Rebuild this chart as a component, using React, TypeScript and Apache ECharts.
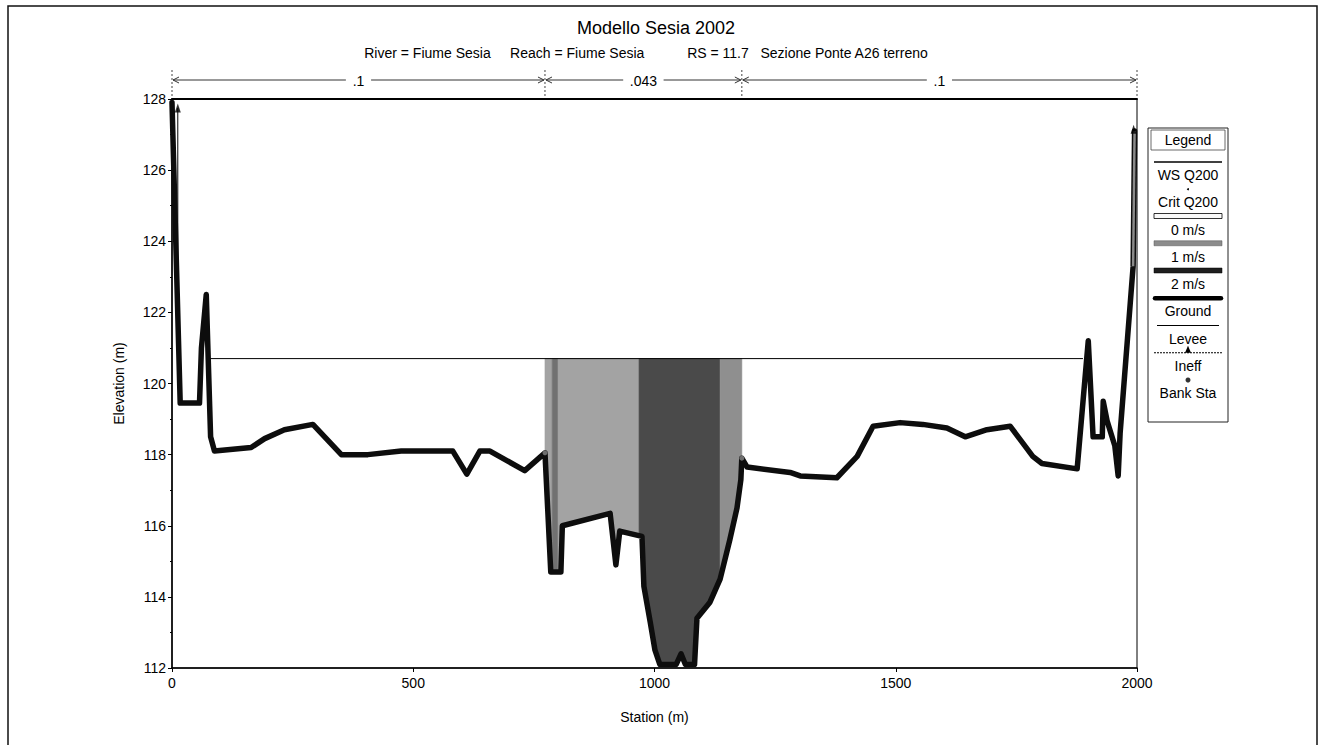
import React, { useEffect, useRef } from "react";
import * as echarts from "echarts";

const FONT = "'Liberation Sans', Arial, sans-serif";

// Ground profile (station m, elevation m)
const groundStations = [
  0, 17, 57, 61, 71, 80, 88, 164, 192, 233, 292, 351, 406, 475, 582, 611, 638, 659, 731, 773,
  785, 806, 809, 908, 920, 928, 974, 978, 991, 1001, 1011, 1045, 1055, 1064, 1083, 1088, 1115, 1136,
  1156, 1171, 1179, 1181, 1192, 1281, 1302, 1378, 1420, 1453, 1509, 1556, 1606, 1644, 1689, 1737,
  1784, 1803, 1876, 1899, 1909, 1928, 1930, 1938, 1954, 1961, 1965, 1992, 1995,
];
const groundElevations = [
  127.9, 119.45, 119.45, 121.0, 122.5, 118.5, 118.1, 118.2, 118.45, 118.7, 118.85, 118.0, 118.0, 118.1, 118.1, 117.45, 118.1, 118.1, 117.55, 118.05,
  114.7, 114.7, 116.0, 116.35, 114.9, 115.85, 115.7, 114.3, 113.3, 112.5, 112.1, 112.1, 112.4, 112.1, 112.1, 113.4, 113.85, 114.5,
  115.6, 116.5, 117.3, 117.9, 117.65, 117.5, 117.4, 117.35, 117.95, 118.8, 118.9, 118.85, 118.75, 118.5, 118.7, 118.8,
  117.95, 117.75, 117.6, 121.2, 118.5, 118.5, 119.5, 118.95, 118.25, 117.4, 118.6, 123.3, 127.1,
];

// Water surface Q200
const wsElevation = 120.7;
const wsStations = [75, 1888];

// Velocity distribution slices (m/s)
const velSliceBounds = [773, 788, 800, 968, 1136, 1181];
const velSliceValues = [0.8, 1.3, 0.8, 1.7, 1.0];

// Manning's n
const nBounds = [0, 773, 1181, 2000];
const nLabels = [".1", ".043", ".1"];

// Markers
const bankStations = [773, 1181];
const bankElevations = [118.05, 117.9];
const ineffLeft = [[12, 127.75], [12, 121.8]];
const ineffRight = [[1992, 123.3], [1995, 127.1]];
const leveePoints = [[12, 127.75], [1993, 127.15]];

const xMin = 0, xMax = 2000, xStep = 500;
const yMin = 112, yMax = 128, yStep = 2;

const legendLabels = ["WS Q200", "Crit Q200", "0 m/s", "1 m/s", "2 m/s", "Ground", "Levee", "Ineff", "Bank Sta"];

function groundAt(s: number): number {
  for (let k = 0; k < groundStations.length - 1; k++) {
    const a = groundStations[k], b = groundStations[k + 1];
    if (s >= a && s <= b) {
      const t = b === a ? 0 : (s - a) / (b - a);
      return groundElevations[k] + t * (groundElevations[k + 1] - groundElevations[k]);
    }
  }
  return groundElevations[groundElevations.length - 1];
}

function velColor(v: number): string {
  const g = Math.max(20, Math.min(250, Math.round(242 - 99 * v)));
  return `rgb(${g},${g},${g})`;
}

function buildLegend(): any[] {
  const x0 = 1148, y0 = 128, w = 80, h = 294;
  const cx = x0 + w / 2;
  const els: any[] = [];
  els.push({ type: "rect", shape: { x: x0, y: y0, width: w, height: h }, style: { fill: "#fff", stroke: "#222", lineWidth: 1 } });
  els.push({ type: "rect", shape: { x: x0 + 3, y: y0 + 2, width: w - 6, height: 20 }, style: { fill: "#fff", stroke: "#444", lineWidth: 0.8 } });
  els.push({ type: "text", style: { x: cx, y: y0 + 12, text: "Legend", align: "center", verticalAlign: "middle", fontSize: 14, fontFamily: FONT, fill: "#000" } });
  const step = 27.25;
  legendLabels.forEach((lab, i) => {
    const labY = 175 + step * i;
    const symY = labY - 13;
    const sx1 = x0 + 6, sx2 = x0 + w - 6;
    if (i === 0) els.push({ type: "line", shape: { x1: sx1, y1: symY, x2: sx2, y2: symY }, style: { stroke: "#000", lineWidth: 1.5 } });
    if (i === 1) els.push({ type: "circle", shape: { cx, cy: symY, r: 1 }, style: { fill: "#000" } });
    if (i === 2) els.push({ type: "rect", shape: { x: sx1, y: symY - 3, width: sx2 - sx1, height: 5 }, style: { fill: "#fafafa", stroke: "#000", lineWidth: 0.8 } });
    if (i === 3) els.push({ type: "rect", shape: { x: sx1, y: symY - 3, width: sx2 - sx1, height: 5 }, style: { fill: "#8c8c8c", stroke: "#555", lineWidth: 0.5 } });
    if (i === 4) els.push({ type: "rect", shape: { x: sx1, y: symY - 3, width: sx2 - sx1, height: 5 }, style: { fill: "#1e1e1e", stroke: "#000", lineWidth: 0.5 } });
    if (i === 5) els.push({ type: "line", shape: { x1: sx1 + 1, y1: symY, x2: sx2 - 1, y2: symY }, style: { stroke: "#000", lineWidth: 4.5, lineCap: "round" } });
    if (i === 6) els.push({ type: "line", shape: { x1: sx1 + 3, y1: symY, x2: sx2 - 3, y2: symY }, style: { stroke: "#000", lineWidth: 1 } });
    if (i === 7) {
      els.push({ type: "line", shape: { x1: sx1, y1: symY, x2: sx2, y2: symY }, style: { stroke: "#000", lineWidth: 1, lineDash: [2, 1] } });
      els.push({ type: "polygon", shape: { points: [[cx - 3, symY], [cx + 3, symY], [cx, symY - 7]] }, style: { fill: "#000" } });
    }
    if (i === 8) els.push({ type: "circle", shape: { cx, cy: symY, r: 2.5 }, style: { fill: "#333" } });
    els.push({ type: "text", style: { x: cx, y: labY, text: lab, align: "center", verticalAlign: "middle", fontSize: 14, fontFamily: FONT, fill: "#000" } });
  });
  return els;
}

const SP = "\u00a0";

export default function App() {
  const ref = useRef<HTMLDivElement>(null);
  useEffect(() => {
    if (!ref.current) return;
    const chart = echarts.init(ref.current, undefined, { renderer: "svg" });
    const groundData = groundStations.map((s, i) => [s, groundElevations[i]]);
    const velData = velSliceValues.map((v, i) => [velSliceBounds[i], velSliceBounds[i + 1], wsElevation, v]);
    const nData = nLabels.map((l, i) => [nBounds[i], nBounds[i + 1], yMax]);
    const subtitle = "River = Fiume Sesia" + SP.repeat(5) + "Reach = Fiume Sesia" + SP.repeat(11) + "RS = 11.7" + SP.repeat(3) + "Sezione Ponte A26 terreno";

    const option: any = {
      animation: false,
      backgroundColor: "#fff",
      textStyle: { fontFamily: FONT },
      grid: { left: 172, right: 187, top: 99, bottom: 77, show: true, borderColor: "#000", borderWidth: 1, backgroundColor: "transparent" },
      xAxis: [
        {
          type: "value", min: xMin, max: xMax, interval: xStep,
          name: "Station (m)", nameLocation: "middle", nameGap: 42,
          nameTextStyle: { fontSize: 14, color: "#000", fontFamily: FONT },
          axisLine: { show: true, onZero: false, lineStyle: { color: "#000", width: 1.5 } },
          axisTick: { show: true, length: 4, lineStyle: { color: "#000" } },
          axisLabel: { fontSize: 14, color: "#000", margin: 8, fontFamily: FONT, formatter: (v: number) => String(v) },
          splitLine: { show: false },
        },
        {
          type: "value", min: xMin, max: xMax, position: "top",
          axisLine: { show: true, onZero: false, lineStyle: { color: "#000", width: 2 } },
          axisTick: { show: false }, axisLabel: { show: false }, splitLine: { show: false },
        },
      ],
      yAxis: {
        type: "value", min: yMin, max: yMax, interval: yStep,
        name: "Elevation (m)", nameLocation: "middle", nameGap: 46,
        nameTextStyle: { fontSize: 14, color: "#000", fontFamily: FONT },
        axisLine: { show: true, onZero: false, lineStyle: { color: "#000", width: 1.5 } },
        axisTick: { show: true, length: 4, lineStyle: { color: "#000" } },
        minorTick: { show: true, splitNumber: 2, length: 2, lineStyle: { color: "#000" } },
        axisLabel: { fontSize: 14, color: "#000", margin: 6, fontFamily: FONT },
        splitLine: { show: false },
      },
      series: [
        {
          type: "custom", name: "velocity", z: 1,
          data: velData, encode: { x: [0, 1], y: 2 },
          renderItem: (params: any, api: any) => {
            const i = params.dataIndex;
            const a = velSliceBounds[i], b = velSliceBounds[i + 1];
            const pts: number[][] = [[a, wsElevation], [b, wsElevation], [b, groundAt(b)]];
            for (let k = groundStations.length - 1; k >= 0; k--) {
              const s = groundStations[k];
              if (s > a && s < b) pts.push([s, groundElevations[k]]);
            }
            pts.push([a, groundAt(a)]);
            const c = velColor(velSliceValues[i]);
            return { type: "polygon", shape: { points: pts.map((p) => api.coord(p)) }, style: { fill: c, stroke: c, lineWidth: 0.6 } };
          },
        },
        {
          type: "line", name: "WS Q200", z: 2, symbol: "none",
          data: wsStations.map((s) => [s, wsElevation]),
          lineStyle: { color: "#000", width: 1 },
        },
        {
          type: "line", name: "Ineff L", z: 3, symbol: "none",
          data: ineffLeft, lineStyle: { color: "#000", width: 1 },
        },
        {
          type: "line", name: "Ground", z: 4, symbol: "none",
          data: groundData,
          lineStyle: { color: "#0d0d0d", width: 5.5, join: "round", cap: "round" },
        },
        {
          type: "line", name: "Ineff R", z: 5, symbol: "none",
          data: ineffRight, lineStyle: { color: "#8a8a8a", width: 2.5 },
        },
        {
          type: "scatter", name: "Levee", z: 6, symbol: "triangle", symbolSize: [6, 9],
          data: leveePoints, itemStyle: { color: "#000" },
        },
        {
          type: "scatter", name: "Bank Sta", z: 6, symbol: "circle", symbolSize: 5,
          data: bankStations.map((s, i) => [s, bankElevations[i]]), itemStyle: { color: "#888" },
        },
        {
          type: "custom", name: "n", z: 7, clip: false,
          data: nData, encode: { x: [0, 1], y: 2 },
          renderItem: (params: any, api: any) => {
            const i = params.dataIndex;
            const p1 = api.coord([nBounds[i], yMax]);
            const p2 = api.coord([nBounds[i + 1], yMax]);
            const y = p1[1] - 19;
            const x1 = p1[0], x2 = p2[0], mid = (x1 + x2) / 2;
            const half = nLabels[i].length * 3.8 + 5;
            const st = { stroke: "#333", lineWidth: 1, fill: "none" };
            const children: any[] = [
              { type: "line", shape: { x1: x1 + 1, y1: y, x2: mid - half, y2: y }, style: st },
              { type: "line", shape: { x1: mid + half, y1: y, x2: x2 - 1, y2: y }, style: st },
              { type: "polyline", shape: { points: [[x1 + 7, y - 3], [x1 + 1, y], [x1 + 7, y + 3]] }, style: st },
              { type: "polyline", shape: { points: [[x2 - 7, y - 3], [x2 - 1, y], [x2 - 7, y + 3]] }, style: st },
              { type: "text", style: { x: mid, y: y + 1, text: nLabels[i], align: "center", verticalAlign: "middle", fontSize: 14, fontFamily: FONT, fill: "#000" } },
              { type: "line", shape: { x1: x1, y1: y - 10, x2: x1, y2: p1[1] - 2 }, style: { stroke: "#444", lineWidth: 1, lineDash: [2, 2] } },
            ];
            if (i === nLabels.length - 1) {
              children.push({ type: "line", shape: { x1: x2, y1: y - 10, x2: x2, y2: p2[1] - 2 }, style: { stroke: "#444", lineWidth: 1, lineDash: [2, 2] } });
            }
            return { type: "group", children };
          },
        },
      ],
      graphic: [
        { type: "rect", shape: { x: 8, y: 6, width: 1309, height: 760 }, style: { fill: "none", stroke: "#111", lineWidth: 1.5 }, silent: true },
        { type: "text", style: { x: 656, y: 28, text: "Modello Sesia 2002", align: "center", verticalAlign: "middle", fontSize: 18, fontFamily: FONT, fill: "#000" } },
        { type: "text", style: { x: 646, y: 53, text: subtitle, align: "center", verticalAlign: "middle", fontSize: 14, fontFamily: FONT, fill: "#000" } },
        ...buildLegend(),
      ],
    };
    chart.setOption(option);
    return () => chart.dispose();
  }, []);
  return <div ref={ref} style={{ position: "fixed", left: 0, top: 0, width: 1324, height: 745, background: "#fff" }} />;
}
